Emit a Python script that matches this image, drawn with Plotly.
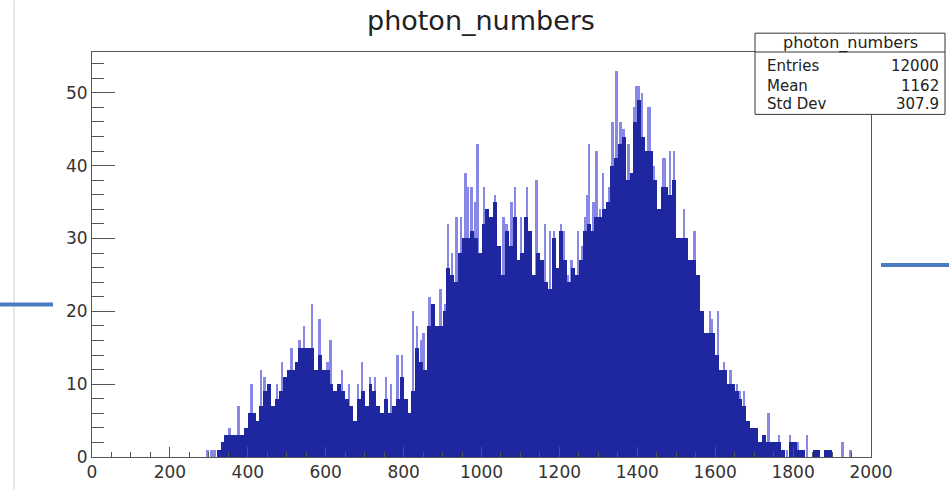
import numpy as np
import plotly.graph_objects as go

# ---------------- data ----------------
title_text = "photon_numbers"
stat_labels = ["Entries", "Mean", "Std Dev"]
stat_values = ["12000", "1162", "307.9"]

# dark body of the histogram, 10-unit bins starting at 290
body_start = 290
body_width = 10
body_counts = [
    0, 0, 0, 1, 2, 3, 3, 3, 3, 3,            # 290-380
    4, 6, 6, 5, 7, 9, 10, 7, 8, 9,           # 390-480
    11, 12, 12, 13, 15, 15, 15, 15, 12, 14,  # 490-580
    12, 12, 10, 9, 10, 9, 8, 7, 5, 8,        # 590-680
    9, 7, 10, 9, 7, 6, 8, 6, 7, 8,           # 690-780
    11, 8, 6, 9, 15, 13, 12, 18, 21, 18,     # 790-880
    18, 20, 26, 25, 24, 28, 30, 30, 31, 30,  # 890-980
    28, 32, 34, 33, 35, 29, 25, 31, 29, 33,  # 990-1080
    27, 28, 33, 31, 25, 28, 27, 24, 23, 30,  # 1090-1180
    26, 31, 27, 24, 26, 25, 27, 31, 32, 31,  # 1190-1280
    33, 33, 34, 35, 40, 41, 43, 44, 38, 39,  # 1290-1380
    46, 49, 44, 42, 42, 38, 34, 37, 37, 36,  # 1390-1480
    38, 30, 30, 30, 27, 27, 25, 20, 17, 17,  # 1490-1580
    17, 14, 12, 12, 10, 10, 9, 8, 7, 5,      # 1590-1680
    4, 4, 2, 3, 2, 2, 2, 2, 1, 0,            # 1690-1780
    2, 2, 1, 1, 0, 0, 1, 1, 0, 1,            # 1790-1880
    1,                                       # 1890
]

# narrow light spikes sticking out above the body
spike_width = 5
spike_x = [
    297, 308, 315, 354, 377, 410, 435, 444, 476, 488,
    513, 533, 545, 565, 585, 605, 613, 643, 660, 683,
    694, 714, 727, 756, 768, 785, 796, 825, 835, 847,
    852, 867, 895, 907, 915, 925, 936, 948, 960, 965,
    975, 985, 990, 1007, 1035, 1057, 1065, 1078, 1086, 1102,
    1117, 1142, 1163, 1176, 1187, 1205, 1213, 1222, 1232, 1249,
    1258, 1268, 1273, 1277, 1288, 1296, 1305, 1313, 1328, 1337,
    1347, 1358, 1365, 1378, 1393, 1399, 1405, 1412, 1428, 1433,
    1443, 1448, 1467, 1472, 1484, 1495, 1521, 1548, 1587, 1593,
    1608, 1623, 1640, 1657, 1664, 1675, 1737, 1765, 1785, 1793,
    1812, 1837, 1863, 1928, 1948,
]
spike_h = [
    1, 1, 1, 4, 7, 10, 12, 11, 10, 13,
    15, 16, 18, 21, 19, 13, 16, 12, 10, 10,
    13, 11, 11, 11, 10, 14, 14, 20, 18, 16,
    17, 22, 23, 21, 32, 28, 33, 33, 39, 37,
    37, 35, 43, 37, 36, 33, 32, 35, 37, 33,
    37, 38, 32, 31, 31, 32, 31, 25, 27, 31,
    29, 33, 36, 43, 35, 42, 34, 39, 37, 46,
    53, 46, 45, 43, 48, 51, 51, 50, 48, 48,
    40, 36, 41, 41, 42, 42, 34, 31, 20, 19,
    20, 13, 12, 10, 9, 9, 6, 3, 1, 3,
    2, 3, 1, 2, 1,
]

x_tickvals = [0, 200, 400, 600, 800, 1000, 1200, 1400, 1600, 1800, 2000]
y_tickvals = [0, 10, 20, 30, 40, 50]

# ---------------- layout geometry (pixels) ----------------
W, H = 949, 494
L, R, T, B = 92, 78, 52, 33
PW, PH = W - L - R, H - T - B


def px(xp):
    return (xp - L) / PW


def py(yp):
    return (H - B - yp) / PH


dark = "#1f27a0"
light = "#8888e6"
axis_col = "#555555"
font_family = "DejaVu Sans, Liberation Sans, Arial"

body_x = body_start + body_width / 2 + body_width * np.arange(len(body_counts))

fig = go.Figure()
fig.add_trace(go.Bar(x=spike_x, y=spike_h, width=spike_width,
                     marker=dict(color=light, line=dict(width=0)),
                     showlegend=False, hoverinfo="skip"))
fig.add_trace(go.Bar(x=body_x, y=body_counts, width=body_width,
                     marker=dict(color=dark, line=dict(width=0)),
                     showlegend=False))

fig.update_layout(
    width=W, height=H,
    margin=dict(l=L, r=R, t=T, b=B, pad=0),
    barmode="overlay", bargap=0,
    plot_bgcolor="white", paper_bgcolor="white",
    showlegend=False,
    font=dict(family=font_family, color="#333333"),
)

fig.update_xaxes(
    range=[0, 2000], tickvals=x_tickvals, ticktext=[str(v) for v in x_tickvals],
    ticks="inside", ticklen=10, tickcolor=axis_col, tickwidth=1,
    minor=dict(dtick=50, ticks="inside", ticklen=5, tickcolor=axis_col, tickwidth=1, showgrid=False),
    showgrid=False, zeroline=False, showline=True, mirror=True,
    linecolor=axis_col, linewidth=1,
    tickfont=dict(size=17, color="#333333", family=font_family),
)
fig.update_yaxes(
    range=[0, 55.6], tickvals=y_tickvals, ticktext=[str(v) for v in y_tickvals],
    ticks="inside", ticklen=23, tickcolor=axis_col, tickwidth=1,
    minor=dict(dtick=2, ticks="inside", ticklen=12, tickcolor=axis_col, tickwidth=1, showgrid=False),
    showgrid=False, zeroline=False, showline=True, mirror=True,
    linecolor=axis_col, linewidth=1,
    tickfont=dict(size=17, color="#333333", family=font_family),
)

shapes = []
annotations = []

# slide decorations outside the plot
shapes.append(dict(type="line", xref="paper", yref="paper",
                   x0=px(14), x1=px(14), y0=py(0), y1=py(494),
                   line=dict(color="#cfcfcf", width=1)))
shapes.append(dict(type="line", xref="paper", yref="paper",
                   x0=px(0), x1=px(53), y0=py(307), y1=py(307),
                   line=dict(color="#4a7cc4", width=4)))
shapes.append(dict(type="line", xref="paper", yref="paper",
                   x0=px(881), x1=px(949), y0=py(267), y1=py(267),
                   line=dict(color="#4a7cc4", width=4)))

# stats box
bx0, bx1, by0, by1 = 755, 945, 33, 115
shapes.append(dict(type="rect", xref="paper", yref="paper",
                   x0=px(bx0), x1=px(bx1), y0=py(by0), y1=py(by1),
                   fillcolor="white", line=dict(color="#333333", width=1), layer="above"))
shapes.append(dict(type="line", xref="paper", yref="paper",
                   x0=px(bx0), x1=px(bx1), y0=py(52), y1=py(52),
                   line=dict(color="#333333", width=1), layer="above"))

annotations.append(dict(text=title_text, xref="paper", yref="paper",
                        x=px(481), y=py(20), xanchor="center", yanchor="middle",
                        showarrow=False, font=dict(size=27, color="#222222", family=font_family)))
annotations.append(dict(text=title_text, xref="paper", yref="paper",
                        x=px(850), y=py(43), xanchor="center", yanchor="middle",
                        showarrow=False, font=dict(size=16, color="#222222", family=font_family)))
row_y = [66, 86, 105]
for lab, val, yy in zip(stat_labels, stat_values, row_y):
    annotations.append(dict(text=lab, xref="paper", yref="paper",
                            x=px(765), y=py(yy), xanchor="left", yanchor="middle",
                            showarrow=False, font=dict(size=15, color="#222222", family=font_family)))
    annotations.append(dict(text=val, xref="paper", yref="paper",
                            x=px(941), y=py(yy), xanchor="right", yanchor="middle",
                            showarrow=False, font=dict(size=15, color="#222222", family=font_family)))

fig.update_layout(shapes=shapes, annotations=annotations)
fig.write_html("out.html", config={"displayModeBar": False},
               post_script="document.body.style.margin='0';document.body.style.overflow='hidden';")
